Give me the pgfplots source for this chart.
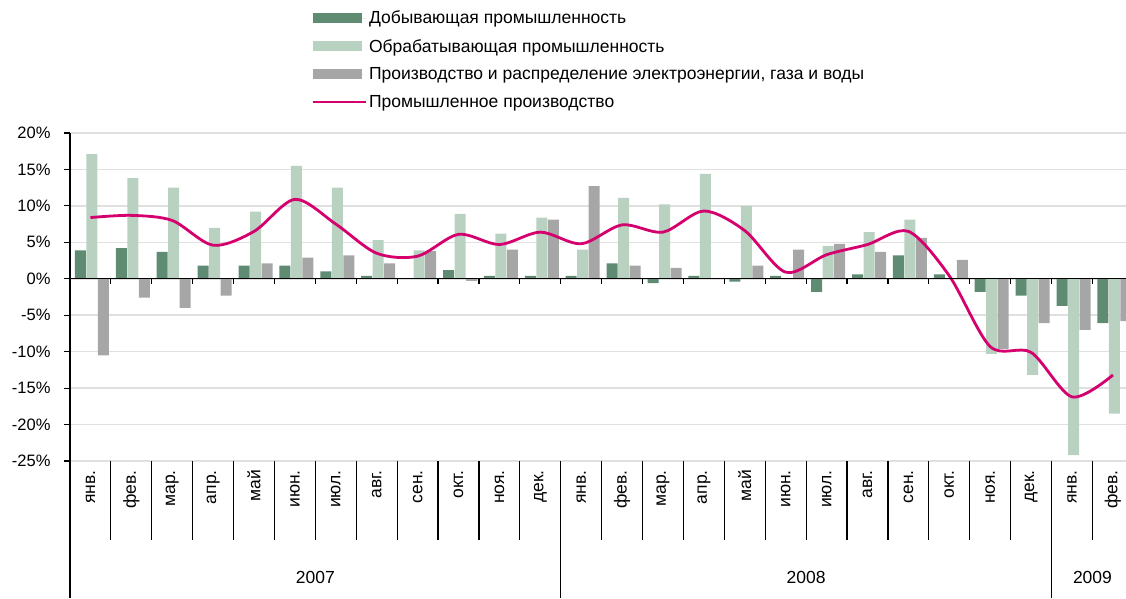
\documentclass[border=0pt]{standalone}
\usepackage{pgfplots}
\pgfplotsset{compat=1.18}
\usepackage{fontspec}
\setmainfont{Liberation Sans}
\definecolor{cdark}{RGB}{96,139,115}
\definecolor{clight}{RGB}{184,209,193}
\definecolor{cgray}{RGB}{166,166,166}
\definecolor{cpink}{RGB}{213,0,109}
\definecolor{cgrid}{RGB}{224,224,224}
\begin{document}
\begin{tikzpicture}
\path[use as bounding box] (0,0) rectangle (1126pt,598pt);
\begin{axis}[
  at={(70pt,137pt)}, anchor=south west,
  scale only axis, width=1056pt, height=328pt,
  xmin=-0.5, xmax=25.32, ymin=-25, ymax=20,
  clip=false,
  axis x line=none,
  axis y line*=left,
  y axis line style={black, line width=1.2pt},
  ytick={-25,-20,...,20},
  yticklabels={-25\%,-20\%,-15\%,-10\%,-5\%,0\%,5\%,10\%,15\%,20\%},
  y tick label style={font=\fontsize{16.5}{17}\selectfont, xshift=-10pt},
  ytick align=outside, major tick length=6pt,
  y tick style={black, line width=1.2pt},
  ymajorgrids, grid style={cgrid, line width=1.5pt},
  legend style={at={(0.2254,1.385)}, anchor=north west, draw=none, fill=none,
    font=\fontsize{17.5}{19}\selectfont, row sep=10pt,
    nodes={inner sep=2pt}},
  legend cell align=left,
]
\addplot[ybar, bar width=11pt, bar shift=-10pt, fill=cdark, draw=none,
  legend image code/.code={\fill[cdark] (0pt,-5pt) rectangle (49pt,5pt); \path (0pt,0pt) -- (53pt,0pt);}]
  coordinates {(0,3.9)(1,4.2)(2,3.7)(3,1.8)(4,1.8)(5,1.8)(6,1.0)(7,0.4)(8,0.0)(9,1.2)(10,0.4)(11,0.4)(12,0.4)(13,2.1)(14,-0.6)(15,0.4)(16,-0.4)(17,0.4)(18,-1.8)(19,0.6)(20,3.2)(21,0.6)(22,-1.8)(23,-2.3)(24,-3.7)(25,-6.1)};
\addlegendentry{Добывающая промышленность}
\addplot[ybar, bar width=11pt, bar shift=1.5pt, fill=clight, draw=none,
  legend image code/.code={\fill[clight] (0pt,-5pt) rectangle (49pt,5pt); \path (0pt,0pt) -- (53pt,0pt);}]
  coordinates {(0,17.1)(1,13.8)(2,12.5)(3,7.0)(4,9.2)(5,15.5)(6,12.5)(7,5.3)(8,3.9)(9,8.9)(10,6.2)(11,8.4)(12,4.0)(13,11.1)(14,10.2)(15,14.4)(16,10.0)(17,0.0)(18,4.5)(19,6.4)(20,8.1)(21,0.0)(22,-10.3)(23,-13.2)(24,-24.2)(25,-18.5)};
\addlegendentry{Обрабатывающая промышленность}
\addplot[ybar, bar width=11pt, bar shift=13pt, fill=cgray, draw=none,
  legend image code/.code={\fill[cgray] (0pt,-5pt) rectangle (49pt,5pt); \path (0pt,0pt) -- (53pt,0pt);}]
  coordinates {(0,-10.5)(1,-2.6)(2,-4.0)(3,-2.3)(4,2.1)(5,2.9)(6,3.2)(7,2.1)(8,3.8)(9,-0.3)(10,4.0)(11,8.1)(12,12.7)(13,1.8)(14,1.5)(15,0.0)(16,1.8)(17,4.0)(18,4.8)(19,3.7)(20,5.6)(21,2.6)(22,-9.6)(23,-6.1)(24,-7.0)(25,-5.8)};
\addlegendentry{Производство и распределение электроэнергии, газа и воды}
\addplot[cpink, line width=2.8pt, smooth, mark=none,
  legend image code/.code={\draw[cpink, line width=1.5pt] (0pt,0pt) -- (49pt,0pt); \path (0pt,0pt) -- (53pt,0pt);}]
  coordinates {(0,8.4)(1,8.7)(2,8.0)(3,4.6)(4,6.5)(5,10.9)(6,7.5)(7,3.5)(8,3.1)(9,6.1)(10,4.7)(11,6.4)(12,4.8)(13,7.4)(14,6.4)(15,9.3)(16,6.6)(17,0.9)(18,3.3)(19,4.7)(20,6.5)(21,0.4)(22,-9.3)(23,-10.1)(24,-16.2)(25,-13.2)};
\addlegendentry{Промышленное производство}
% zero axis line with small ticks
\draw[black, line width=1.2pt] (axis cs:-0.5,0) -- (axis cs:25.5,0);
\pgfplotsinvokeforeach{0.5,1.5,...,24.5}{
  \draw[black, line width=1.2pt] (axis cs:#1,0) -- ++(0pt,-5pt);
  \draw[black, line width=1.2pt] (axis cs:#1,-25) -- ++(0pt,-79pt);
}
\draw[black, line width=1.2pt] (axis cs:-0.5,-25) -- ++(0pt,-137pt);
\draw[black, line width=1.2pt] (axis cs:11.5,-25) -- ++(0pt,-137pt);
\draw[black, line width=1.2pt] (axis cs:23.5,-25) -- ++(0pt,-137pt);
% month labels
\pgfplotsinvokeforeach{0,12,24}{
  \node[rotate=90, anchor=east, font=\fontsize{17.5}{17.5}\selectfont, inner sep=0pt] at ([yshift=-9pt]axis cs:#1,-25) {янв.};
  \node[rotate=90, anchor=east, font=\fontsize{17.5}{17.5}\selectfont, inner sep=0pt] at ([yshift=-9pt]axis cs:#1+1,-25) {фев.};
}
\pgfplotsinvokeforeach{0,12}{
  \node[rotate=90, anchor=east, font=\fontsize{17.5}{17.5}\selectfont, inner sep=0pt] at ([yshift=-9pt]axis cs:#1+2,-25) {мар.};
  \node[rotate=90, anchor=east, font=\fontsize{17.5}{17.5}\selectfont, inner sep=0pt] at ([yshift=-9pt]axis cs:#1+3,-25) {апр.};
  \node[rotate=90, anchor=east, font=\fontsize{17.5}{17.5}\selectfont, inner sep=0pt] at ([yshift=-9pt]axis cs:#1+4,-25) {май};
  \node[rotate=90, anchor=east, font=\fontsize{17.5}{17.5}\selectfont, inner sep=0pt] at ([yshift=-9pt]axis cs:#1+5,-25) {июн.};
  \node[rotate=90, anchor=east, font=\fontsize{17.5}{17.5}\selectfont, inner sep=0pt] at ([yshift=-9pt]axis cs:#1+6,-25) {июл.};
  \node[rotate=90, anchor=east, font=\fontsize{17.5}{17.5}\selectfont, inner sep=0pt] at ([yshift=-9pt]axis cs:#1+7,-25) {авг.};
  \node[rotate=90, anchor=east, font=\fontsize{17.5}{17.5}\selectfont, inner sep=0pt] at ([yshift=-9pt]axis cs:#1+8,-25) {сен.};
  \node[rotate=90, anchor=east, font=\fontsize{17.5}{17.5}\selectfont, inner sep=0pt] at ([yshift=-9pt]axis cs:#1+9,-25) {окт.};
  \node[rotate=90, anchor=east, font=\fontsize{17.5}{17.5}\selectfont, inner sep=0pt] at ([yshift=-9pt]axis cs:#1+10,-25) {ноя.};
  \node[rotate=90, anchor=east, font=\fontsize{17.5}{17.5}\selectfont, inner sep=0pt] at ([yshift=-9pt]axis cs:#1+11,-25) {дек.};
}
% year labels
\node[font=\fontsize{17.5}{17.5}\selectfont] at ([yshift=-116pt]axis cs:5.5,-25) {2007};
\node[font=\fontsize{17.5}{17.5}\selectfont] at ([yshift=-116pt]axis cs:17.5,-25) {2008};
\node[font=\fontsize{17.5}{17.5}\selectfont] at ([yshift=-116pt]axis cs:24.5,-25) {2009};
\end{axis}
\end{tikzpicture}
\end{document}
